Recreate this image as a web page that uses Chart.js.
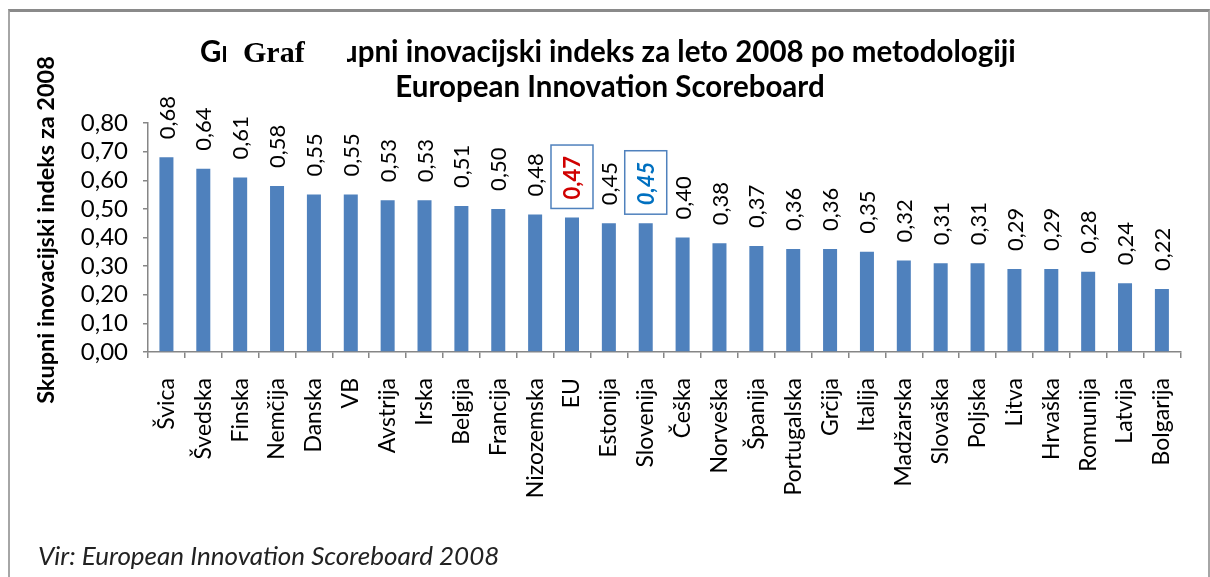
<!DOCTYPE html>
<html><head><meta charset="utf-8">
<script src="https://cdn.jsdelivr.net/npm/chart.js@4"></script>
<style>
html,body{margin:0;padding:0;background:#fff;overflow:hidden}
#wrap{position:relative;width:1210px;height:577px}
#frame{position:absolute;left:8px;top:9px;width:1202px;height:620px;border-top:3px solid #8a8a8a;border-left:2px solid #a6a6a6;border-right:2px solid #a6a6a6;box-sizing:border-box}
canvas{position:absolute;left:0;top:0}
</style></head>
<body><div id="wrap"><div id="frame"></div><canvas id="c" width="1210" height="577"></canvas></div>
<script>
const categories = ["Švica","Švedska","Finska","Nemčija","Danska","VB","Avstrija","Irska","Belgija","Francija","Nizozemska","EU","Estonija","Slovenija","Češka","Norveška","Španija","Portugalska","Grčija","Italija","Madžarska","Slovaška","Poljska","Litva","Hrvaška","Romunija","Latvija","Bolgarija"];
const values = [0.68,0.64,0.61,0.58,0.55,0.55,0.53,0.53,0.51,0.50,0.48,0.47,0.45,0.45,0.40,0.38,0.37,0.36,0.36,0.35,0.32,0.31,0.31,0.29,0.29,0.28,0.24,0.22];
const yTickValues = [0,0.1,0.2,0.3,0.4,0.5,0.6,0.7,0.8];
const titleLine1a = "Gr";
const titleLine1b = "upni inovacijski indeks za leto 2008 po metodologiji";
const titleOverlay = "Graf";
const titleLine2 = "European Innovation Scoreboard";
const yAxisTitle = "Skupni inovacijski indeks za 2008";
const footerText = "Vir: European Innovation Scoreboard 2008";
const highlighted = {"EU": {color:"#d00000", style:"bold"}, "Slovenija": {color:"#0070c0", style:"italic bold"}};

const fmt = v => v.toFixed(2).replace('.', ',');
const FONT = "Lato, 'Open Sans', sans-serif";

const decor = {
  id: 'decor',
  afterDraw(chart) {
    const ctx = chart.ctx;
    ctx.save();
    ctx.fillStyle = '#000';
    ctx.textBaseline = 'alphabetic';
    // title line 1
    ctx.font = "bold 29.5px " + FONT;
    ctx.textAlign = 'left';
    ctx.save();
    ctx.beginPath(); ctx.rect(190, 20, 36, 60); ctx.clip();
    ctx.fillText(titleLine1a, 200, 62);
    ctx.restore();
    ctx.save();
    ctx.beginPath(); ctx.rect(347, 20, 800, 60); ctx.clip();
    ctx.fillText(titleLine1b, 341, 62);
    ctx.restore();
    ctx.font = "bold 30px 'Liberation Serif', 'DejaVu Serif', serif";
    ctx.fillText(titleOverlay, 243, 62);
    // title line 2
    ctx.font = "bold 29.5px " + FONT;
    ctx.textAlign = 'center';
    ctx.fillText(titleLine2, 610, 97);
    // y axis title
    ctx.save();
    ctx.translate(46, 230);
    ctx.rotate(-Math.PI/2);
    ctx.font = "bold 23.5px " + FONT;
    ctx.textAlign = 'center';
    ctx.textBaseline = 'middle';
    ctx.fillText(yAxisTitle, 0, 0);
    ctx.restore();
    // footer
    ctx.font = "italic 26px " + FONT;
    ctx.textAlign = 'left';
    ctx.fillStyle = '#222';
    ctx.fillText(footerText, 38, 565);
    ctx.restore();
  },
  afterDatasetsDraw(chart) {
    const ctx = chart.ctx;
    const meta = chart.getDatasetMeta(0);
    meta.data.forEach((bar, i) => {
      const label = fmt(values[i]);
      const h = highlighted[categories[i]];
      ctx.save();
      ctx.font = (h ? h.style + " " : "") + "22px " + FONT;
      const w = ctx.measureText(label).width;
      const y0 = bar.y - 18;
      if (h) {
        ctx.fillStyle = '#fff';
        ctx.strokeStyle = '#4f81bd';
        ctx.lineWidth = 1.5;
        const bx = bar.x - 21, bw = 42, by = y0 - w - 11, bh = w + 20;
        ctx.fillRect(bx, by, bw, bh);
        ctx.strokeRect(bx, by, bw, bh);
      }
      ctx.translate(bar.x, y0);
      ctx.rotate(-Math.PI/2);
      ctx.textAlign = 'left';
      ctx.textBaseline = 'middle';
      ctx.fillStyle = h ? h.color : '#000';
      ctx.fillText(label, 0, 1);
      ctx.restore();
    });
  }
};

new Chart(document.getElementById('c'), {
  type: 'bar',
  data: {
    labels: categories,
    datasets: [{ data: values, backgroundColor: '#4f81bd', borderWidth: 0, barPercentage: 0.38, categoryPercentage: 1 }]
  },
  options: {
    responsive: false,
    animation: false,
    devicePixelRatio: 1,
    layout: { padding: { top: 123, right: 28, left: 0, bottom: 0 } },
    plugins: { legend: { display: false }, title: { display: false }, tooltip: { enabled: false } },
    scales: {
      x: {
        afterFit: s => { s.height = 225; },
        grid: { offset: true, drawOnChartArea: false, drawTicks: true, tickLength: 6, color: '#868686', lineWidth: 1.5 },
        border: { color: '#868686', width: 1.5 },
        ticks: { autoSkip: false, maxRotation: 90, minRotation: 90, padding: 20, color: '#000', font: { family: FONT, size: 23 } }
      },
      y: {
        min: 0, max: 0.8,
        afterFit: s => { s.width = 148; },
        afterBuildTicks: s => { s.ticks = yTickValues.map(v => ({ value: v })); },
        grid: { drawOnChartArea: false, drawTicks: true, tickLength: 5, color: '#868686', lineWidth: 1.5 },
        border: { color: '#868686', width: 1.5 },
        ticks: { autoSkip: false, padding: 15, color: '#000', font: { family: FONT, size: 24 }, callback: v => fmt(v) }
      }
    }
  },
  plugins: [decor]
});
</script>
</body></html>
